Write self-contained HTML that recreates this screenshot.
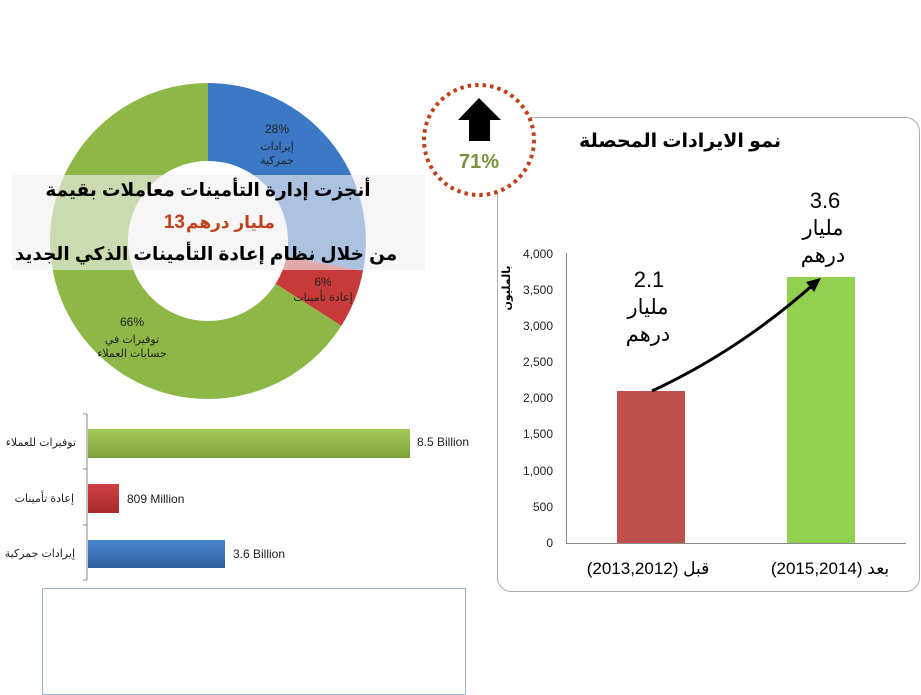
<!DOCTYPE html>
<html><head><meta charset="utf-8"><style>
body{margin:0;width:921px;height:695px;background:#fff;overflow:hidden;position:relative;font-family:"Liberation Sans","Noto Sans CJK SC",sans-serif}
</style></head><body>
<svg width="921" height="695" style="position:absolute;left:0;top:0" font-family="Liberation Sans, DejaVu Sans, sans-serif">
<defs>
<linearGradient id="gg" x1="0" y1="0" x2="0" y2="1"><stop offset="0" stop-color="#a4c95a"/><stop offset="1" stop-color="#7ea23a"/></linearGradient>
<linearGradient id="rg" x1="0" y1="0" x2="0" y2="1"><stop offset="0" stop-color="#d04040"/><stop offset="1" stop-color="#a52a2a"/></linearGradient>
<linearGradient id="bg" x1="0" y1="0" x2="0" y2="1"><stop offset="0" stop-color="#4a86d0"/><stop offset="1" stop-color="#2f5f9f"/></linearGradient>
</defs>
<!-- donut -->
<path d="M208,83 A158,158 0 0 1 363,271 L286.6,256 A80,80 0 0 0 208,161 Z" fill="#3c78c4"/>
<path d="M363,271 A158,158 0 0 1 341.4,325.7 L275.5,283.9 A80,80 0 0 0 286.6,256 Z" fill="#c83a3a"/>
<path d="M341.4,325.7 A158,158 0 1 1 208,83 L208,161 A80,80 0 1 0 275.5,283.9 Z" fill="#8db848"/>
<text x="277" y="133" font-size="12" text-anchor="middle" fill="#222">28%</text>
<text x="277" y="150" font-size="11" text-anchor="middle" fill="#222">إيرادات</text>
<text x="277" y="164" font-size="11" text-anchor="middle" fill="#222">جمركية</text>
<text x="323" y="286" font-size="12" text-anchor="middle" fill="#222">6%</text>
<text x="323" y="301" font-size="11" text-anchor="middle" fill="#222">إعادة تأمينات</text>
<text x="132" y="326" font-size="12" text-anchor="middle" fill="#222">66%</text>
<text x="132" y="343" font-size="11" text-anchor="middle" fill="#222">توفيرات في</text>
<text x="132" y="357" font-size="11" text-anchor="middle" fill="#222">حسابات العملاء</text>
<!-- banner -->
<rect x="12" y="175" width="413" height="95" fill="#f0f0f0" fill-opacity="0.62"/>
<text x="208" y="196" font-size="18.5" font-weight="bold" text-anchor="middle" fill="#000">أنجزت إدارة التأمينات معاملات بقيمة</text>
<text x="185" y="228" font-size="19" font-weight="bold" text-anchor="end" fill="#c0401a">13</text>
<text x="186" y="228" font-size="17" font-weight="bold" text-anchor="start" fill="#c0401a">مليار درهم</text>
<text x="206" y="260" font-size="18.5" font-weight="bold" text-anchor="middle" fill="#000">من خلال نظام إعادة التأمينات الذكي الجديد</text>
<!-- horizontal bars -->
<line x1="87" y1="414" x2="87" y2="580" stroke="#888"/>
<line x1="83" y1="414" x2="87" y2="414" stroke="#888"/><line x1="83" y1="469" x2="87" y2="469" stroke="#888"/><line x1="83" y1="525" x2="87" y2="525" stroke="#888"/><line x1="83" y1="580" x2="87" y2="580" stroke="#888"/>
<rect x="88" y="429" width="322" height="29" fill="url(#gg)"/>
<rect x="88" y="484" width="31" height="29" fill="url(#rg)"/>
<rect x="88" y="540" width="137" height="28" fill="url(#bg)"/>
<text x="417" y="446" font-size="12" fill="#222">8.5 Billion</text>
<text x="127" y="503" font-size="12" fill="#222">809 Million</text>
<text x="233" y="558" font-size="12" fill="#222">3.6 Billion</text>
<text x="76" y="446" font-size="11" text-anchor="end" fill="#222">توفيرات للعملاء</text>
<text x="74" y="502" font-size="11" text-anchor="end" fill="#222">إعادة تأمينات</text>
<text x="75" y="557" font-size="11" text-anchor="end" fill="#222">إيرادات جمركية</text>
<rect x="42.5" y="588.5" width="423" height="106" fill="none" stroke="#9ab4d8"/>
<!-- right chart -->
<rect x="497.5" y="117.5" width="422" height="474" rx="14" fill="#fff" stroke="#aaa"/>
<text x="680" y="147" font-size="19" font-weight="bold" text-anchor="middle" fill="#000">نمو الايرادات المحصلة</text>
<line x1="566.5" y1="253" x2="566.5" y2="543" stroke="#888"/>
<line x1="566" y1="543.5" x2="906" y2="543.5" stroke="#888"/>
<g font-size="12" text-anchor="end" fill="#222">
<text x="553" y="258">4,000</text><text x="553" y="294">3,500</text><text x="553" y="330">3,000</text><text x="553" y="366">2,500</text><text x="553" y="402">2,000</text><text x="553" y="438">1,500</text><text x="553" y="475">1,000</text><text x="553" y="511">500</text><text x="553" y="547">0</text>
</g>
<text transform="translate(510,288) rotate(-90)" font-size="11" font-weight="bold" text-anchor="middle" fill="#000">بالمليون</text>
<rect x="617" y="391" width="68" height="152" fill="#c0504d"/>
<rect x="787" y="277" width="68" height="266" fill="#92d050"/>
<text x="649" y="287" font-size="22" text-anchor="middle" fill="#000">2.1</text>
<text x="648" y="314" font-size="21" text-anchor="middle" fill="#000">مليار</text>
<text x="648" y="341" font-size="21" text-anchor="middle" fill="#000">درهم</text>
<text x="825" y="208" font-size="22" text-anchor="middle" fill="#000">3.6</text>
<text x="823" y="235" font-size="21" text-anchor="middle" fill="#000">مليار</text>
<text x="823" y="262" font-size="21" text-anchor="middle" fill="#000">درهم</text>
<path d="M652,391 Q740,350 815,283" fill="none" stroke="#000" stroke-width="3"/>
<path d="M821,278 L806,282 L814,292 Z" fill="#000"/>
<text x="648" y="574" font-size="17" text-anchor="middle" fill="#000">(2013,2012) قبل</text>
<text x="830" y="574" font-size="17" text-anchor="middle" fill="#000">(2015,2014)   بعد</text>
<!-- circle -->
<circle cx="479" cy="140" r="55" fill="#fff" stroke="#c0401a" stroke-width="4" stroke-dasharray="3.5 4"/>
<path d="M479,98 L501,120 L490,120 L490,141 L469,141 L469,120 L458,120 Z" fill="#000"/>
<text x="479" y="168" font-size="20" font-weight="bold" text-anchor="middle" fill="#76923c">71%</text>
</svg>
</body></html>
